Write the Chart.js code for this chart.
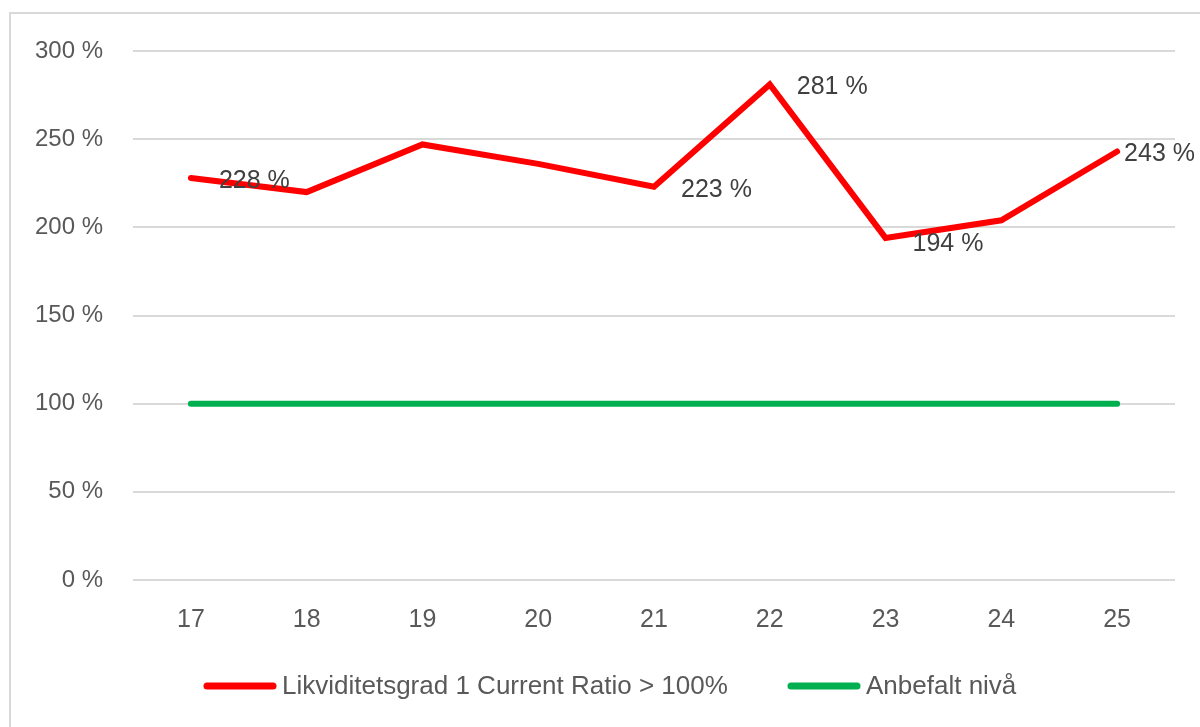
<!DOCTYPE html>
<html>
<head>
<meta charset="utf-8">
<script src="https://cdn.jsdelivr.net/npm/chart.js@4/dist/chart.umd.min.js"></script>
<style>
  html, body { margin: 0; padding: 0; background: #ffffff; }
  #wrap { width: 1200px; height: 727px; }
</style>
</head>
<body>
<div id="wrap"><canvas id="c" width="1200" height="727"></canvas></div>
<script>
// ---- data ----
const categories = ['17', '18', '19', '20', '21', '22', '23', '24', '25'];
const currentRatio = [228, 220, 247, 236, 223, 281, 194, 204, 243];
const recommended = [100, 100, 100, 100, 100, 100, 100, 100, 100];
const labelShown = [true, false, false, false, true, true, true, false, true];
const yTicks = [0, 50, 100, 150, 200, 250, 300];
const seriesNames = ['Likviditetsgrad 1 Current Ratio > 100%', 'Anbefalt nivå'];

const FONT = "'Liberation Sans', Arial, sans-serif";
const RED = '#ff0000';
const GREEN = '#00b050';

// data labels drawn next to the points (offset relative to point, left aligned)
const labelOffsets = { 0: [28, 3], 4: [27, 3], 5: [27, 3], 6: [27, 6], 8: [7, 3] };

const frameAndLegend = {
  id: 'frameAndLegend',
  beforeDraw(chart) {
    const ctx = chart.ctx;
    ctx.save();
    ctx.fillStyle = '#ffffff';
    ctx.fillRect(0, 0, chart.width, chart.height);
    ctx.strokeStyle = '#d9d9d9';
    ctx.lineWidth = 2;
    ctx.beginPath();
    ctx.moveTo(10, 727);
    ctx.lineTo(10, 13);
    ctx.lineTo(1200, 13);
    ctx.stroke();
    ctx.restore();
  },
  afterDraw(chart) {
    const ctx = chart.ctx;
    ctx.save();
    // data labels
    const meta = chart.getDatasetMeta(0);
    ctx.font = '25px ' + FONT;
    ctx.fillStyle = '#404040';
    ctx.textAlign = 'left';
    ctx.textBaseline = 'middle';
    meta.data.forEach((pt, i) => {
      if (!labelShown[i]) return;
      const off = labelOffsets[i] || [27, 0];
      ctx.fillText(currentRatio[i] + ' %', pt.x + off[0], pt.y + off[1]);
    });
    // legend
    const items = [
      { x: 207, color: RED, text: seriesNames[0] },
      { x: 791, color: GREEN, text: seriesNames[1] }
    ];
    ctx.font = '26px ' + FONT;
    ctx.fillStyle = '#595959';
    ctx.lineCap = 'round';
    ctx.lineWidth = 7;
    items.forEach(it => {
      ctx.strokeStyle = it.color;
      ctx.beginPath();
      ctx.moveTo(it.x, 686);
      ctx.lineTo(it.x + 66, 686);
      ctx.stroke();
      ctx.fillText(it.text, it.x + 75, 687);
    });
    ctx.restore();
  }
};

new Chart(document.getElementById('c'), {
  type: 'line',
  data: {
    labels: categories,
    datasets: [
      {
        label: seriesNames[0],
        data: currentRatio,
        borderColor: RED,
        backgroundColor: RED,
        borderWidth: 6,
        borderCapStyle: 'round',
        borderJoinStyle: 'miter',
        pointRadius: 0,
        tension: 0
      },
      {
        label: seriesNames[1],
        data: recommended,
        borderColor: GREEN,
        backgroundColor: GREEN,
        borderWidth: 6,
        borderCapStyle: 'round',
        pointRadius: 0,
        tension: 0
      }
    ]
  },
  options: {
    responsive: false,
    animation: false,
    devicePixelRatio: 1,
    layout: { padding: { left: 0, right: 25, top: 51, bottom: 80 } },
    plugins: {
      legend: { display: false },
      tooltip: { enabled: false },
      title: { display: false }
    },
    scales: {
      x: {
        offset: true,
        grid: { display: false, drawTicks: false },
        border: { display: false },
        ticks: {
          color: '#595959',
          font: { family: FONT, size: 25 },
          padding: 25,
          maxRotation: 0
        },
        afterFit(scale) { scale.height = 67; }
      },
      y: {
        min: 0,
        max: 300,
        afterBuildTicks(scale) { scale.ticks = yTicks.map(v => ({ value: v })); },
        grid: { color: '#d9d9d9', lineWidth: 2, drawTicks: false },
        border: { display: false },
        ticks: {
          color: '#595959',
          font: { family: FONT, size: 24 },
          padding: 30,
          callback: v => v + ' %'
        },
        afterFit(scale) { scale.width = 133; }
      }
    }
  },
  plugins: [frameAndLegend]
});
</script>
</body>
</html>
